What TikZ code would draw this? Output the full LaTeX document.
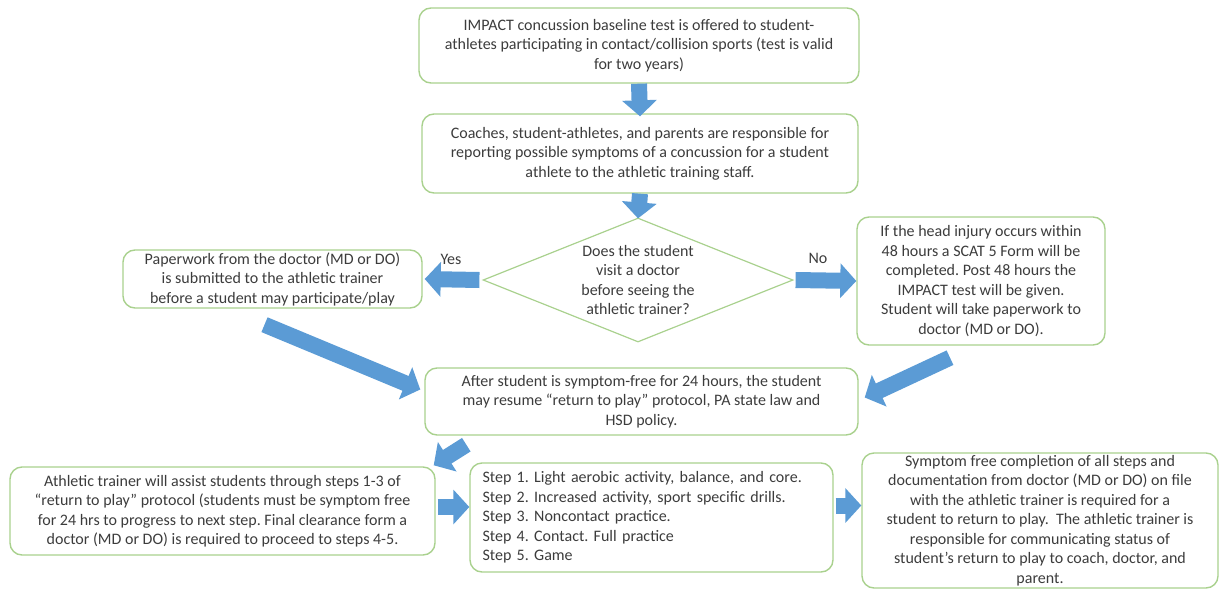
\documentclass[tikz,border=0pt]{standalone}
\usepackage{fontspec}
\setmainfont{Carlito}
\usetikzlibrary{arrows.meta, shapes.geometric, positioning}
\definecolor{boxgreen}{RGB}{169,209,142}
\definecolor{arrowblue}{RGB}{91,155,213}
\definecolor{textgray}{RGB}{60,60,60}
\frenchspacing

\begin{document}
\begin{tikzpicture}[
  x = 1pt, y = -1pt,
  flow box/.style = {draw=boxgreen, line width=1.4pt, rounded corners=12pt, align=center,
    text=textgray, font=\fontsize{16pt}{19.5pt}\selectfont, inner sep=2pt},
  flow arrow/.style = {draw=arrowblue, line width=16pt,
    -{Triangle[length=16pt 0 0, width=34pt 0 0]}},
  answer/.style = {text=textgray, font=\fontsize{16pt}{18pt}\selectfont}
]
  \useasboundingbox (0,0) rectangle (1220,589);

  % top of the chart
  \node[flow box, minimum width=440pt, minimum height=75pt] (baseline) at (639,45.5)
    {IMPACT concussion baseline test is offered to student-\\athletes participating in contact/collision sports (test is valid\\for two years)};
  \node[flow box, minimum width=436pt, minimum height=79pt] (report) at (640,153.5)
    {Coaches, student-athletes, and parents are responsible for\\reporting possible symptoms of a concussion for a student\\athlete to the athletic training staff.};

  % decision
  \node[draw=boxgreen, line width=1.2pt, diamond, aspect=2.5, inner sep=0pt, align=center,
    text=textgray, font=\fontsize{16pt}{19.5pt}\selectfont,
    minimum width=310pt, minimum height=124pt] (doctor) at (638,280)
    {Does the student\\visit a doctor\\before seeing the\\athletic trainer?};
  \node[flow box, minimum width=299pt, minimum height=58pt] (paperwork) at (272.5,279)
    {Paperwork from the doctor (MD or DO)\\is submitted to the athletic trainer\\before a student may participate/play};
  \node[flow box, minimum width=248pt, minimum height=128pt] (scat) at (981,281)
    {If the head injury occurs within\\48 hours a SCAT 5 Form will be\\completed. Post 48 hours the\\IMPACT test will be given.\\Student will take paperwork to\\doctor (MD or DO).};
  \node[answer] (yes) at (451,259) {Yes};
  \node[answer] (no) at (818,258) {No};

  % return to play
  \node[flow box, minimum width=433pt, minimum height=67pt] (resume) at (641.5,401.5)
    {After student is symptom-free for 24 hours, the student\\may resume “return to play” protocol, PA state law and\\HSD policy.};
  \node[flow box, minimum width=425pt, minimum height=88pt] (trainer) at (222.5,511)
    {Athletic trainer will assist students through steps 1-3 of\\“return to play” protocol (students must be symptom free\\for 24 hrs to progress to next step. Final clearance form a\\doctor (MD or DO) is required to proceed to steps 4-5.};
  \node[flow box, align=left, text width=338pt, inner xsep=12.5pt, minimum height=109pt] (steps) at (651.5,517.5)
    {Step 1. Light aerobic activity, balance, and core.\\Step 2. Increased activity, sport specific drills.\\Step 3. Noncontact practice.\\Step 4. Contact. Full practice\\Step 5. Game};
  \node[flow box, inner ysep=0pt, minimum width=356pt, minimum height=135pt] (cleared) at (1040,520.5)
    {Symptom free completion of all steps and\\documentation from doctor (MD or DO) on file\\with the athletic trainer is required for a\\student to return to play.\ \ The athletic trainer is\\responsible for communicating status of\\student’s return to play to coach, doctor, and\\parent.};

  % arrows
  \draw[flow arrow] (baseline.south) -- ([yshift=-3pt]report.north);
  \draw[flow arrow] (report.south) -- ([yshift=-1pt]doctor.north);
  \draw[flow arrow] ([xshift=-3pt]doctor.west) -- ([xshift=2pt]paperwork.east);
  \draw[flow arrow] ([xshift=2pt]doctor.east) -- (scat.west);
  \draw[flow arrow] ([shift={(-8,16)}]paperwork.south) -- ([shift={(-4,-12)}]resume.west);
  \draw[flow arrow] ([shift={(-31,12)}]scat.south) -- ([shift={(6,-4)}]resume.east);
  \draw[flow arrow] ([shift={(42,9)}]resume.south west) -- ([shift={(-2,-1)}]trainer.north east);
  \draw[flow arrow] ([xshift=2pt, yshift=4pt]trainer.east) -- ([yshift=4pt]trainer.east -| steps.west);
  \draw[flow arrow] ([xshift=2pt, yshift=12pt]steps.east) -- ([yshift=12pt]steps.east -| cleared.west);
\end{tikzpicture}
\end{document}
